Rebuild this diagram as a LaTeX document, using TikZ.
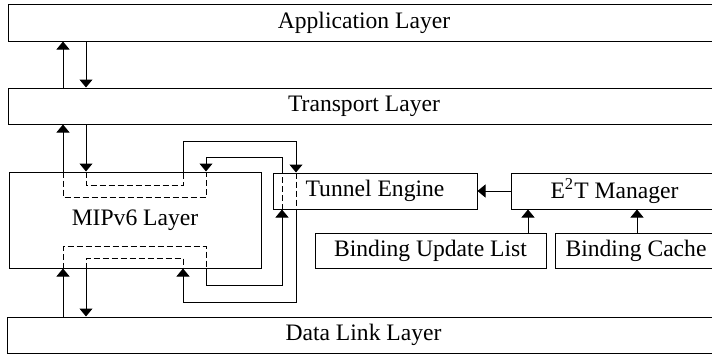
\documentclass[tikz,border=0pt]{standalone}
\usepackage{fontspec}
\setmainfont{Liberation Serif}
\usepackage{tikz}
\usetikzlibrary{arrows.meta}

\begin{document}
\begin{tikzpicture}[x=0.5pt,y=-0.5pt]
    \fontsize{11.8pt}{14pt}\selectfont  % 字体大小
    \tikzstyle{format}=[rectangle,draw,line width=0.5pt,inner sep=0pt,fill=white]  % 方框
    \tikzstyle{arr}=[line width=0.5pt,-{Triangle[width=6.5pt,length=4pt]}]  % 箭头线
    \tikzstyle{tun}=[line width=0.5pt,dash pattern=on 3pt off 1.5pt]  % 虚线
    \useasboundingbox (0,0) rectangle (712,354);
    \clip (0,0) rectangle (712,354);

    % 定义node
    \node[format,minimum width=356pt,minimum height=18.5pt](app) at (364,22.5){Application Layer};
    \node[format,minimum width=356pt,minimum height=18pt](trans) at (364,106){Transport Layer};
    \node[format,minimum width=126pt,minimum height=48pt](mip) at (135,220){MIPv6 Layer};
    \node[format,minimum width=102pt,minimum height=18pt](te) at (375,191){Tunnel Engine};
    \node[format,minimum width=103.5pt,minimum height=18pt](e2t) at (614.5,191){E\textsuperscript{2}T Manager};
    \node[format,minimum width=115.5pt,minimum height=17.5pt](bul) at (430.5,250.5){Binding Update List};
    \node[format,minimum width=81pt,minimum height=17.5pt](bc) at (636,250.5){Binding Cache};
    \node[format,minimum width=356.5pt,minimum height=18pt](dl) at (363.5,335){Data Link Layer};

    % 转折点
    \coordinate (u) at (63,0);
    \coordinate (d) at (86,0);
    \coordinate (i1) at (206,157);
    \coordinate (i2) at (282,157);
    \coordinate (i3) at (282,285);
    \coordinate (i4) at (206,285);
    \coordinate (o1) at (183,141);
    \coordinate (o2) at (296,141);
    \coordinate (o3) at (296,302);
    \coordinate (o4) at (183,302);
    \coordinate (ua) at (63,197);
    \coordinate (da) at (86,185);
    \coordinate (ub) at (63,246);
    \coordinate (db) at (86,258);
    \coordinate (b1) at (528,0);
    \coordinate (b2) at (637,0);

    % 开始画线
    \draw[arr](trans.north -| u)--(app.south -| u);
    \draw[arr](app.south -| d)--(trans.north -| d);
    \draw[arr](mip.north -| u)--(trans.south -| u);
    \draw[arr](trans.south -| d)--(mip.north -| d);
    \draw[arr](dl.north -| u)--(mip.south -| u);
    \draw[arr](mip.south -| d)--(dl.north -| d);
    % MIPv6内部虚线
    \draw[tun](mip.north -| u)--(ua)--(ua -| i1)--(mip.north -| i1);
    \draw[tun](mip.north -| d)--(da)--(da -| o1)--(mip.north -| o1);
    \draw[tun](mip.south -| u)--(ub)--(ub -| i1)--(mip.south -| i1);
    \draw[tun](mip.south -| d)--(db)--(db -| o1)--(mip.south -| o1);
    % 隧道
    \draw[arr](mip.south -| i4)--(i4)--(i3)--(te.south -| i3);
    \draw[tun](te.south -| i3)--(te.north -| i3);
    \draw[arr](te.north -| i2)--(i2)--(i1)--(mip.north -| i1);
    \draw[arr](mip.north -| o1)--(o1)--(o2)--(te.north -| o2);
    \draw[tun](te.north -| o2)--(te.south -| o2);
    \draw[arr](te.south -| o3)--(o3)--(o4)--(mip.south -| o4);
    % 右侧
    \draw[arr](e2t.west)--(te.east);
    \draw[arr](bul.north -| b1)--(e2t.south -| b1);
    \draw[arr](bc.north -| b2)--(e2t.south -| b2);
\end{tikzpicture}
\end{document}
